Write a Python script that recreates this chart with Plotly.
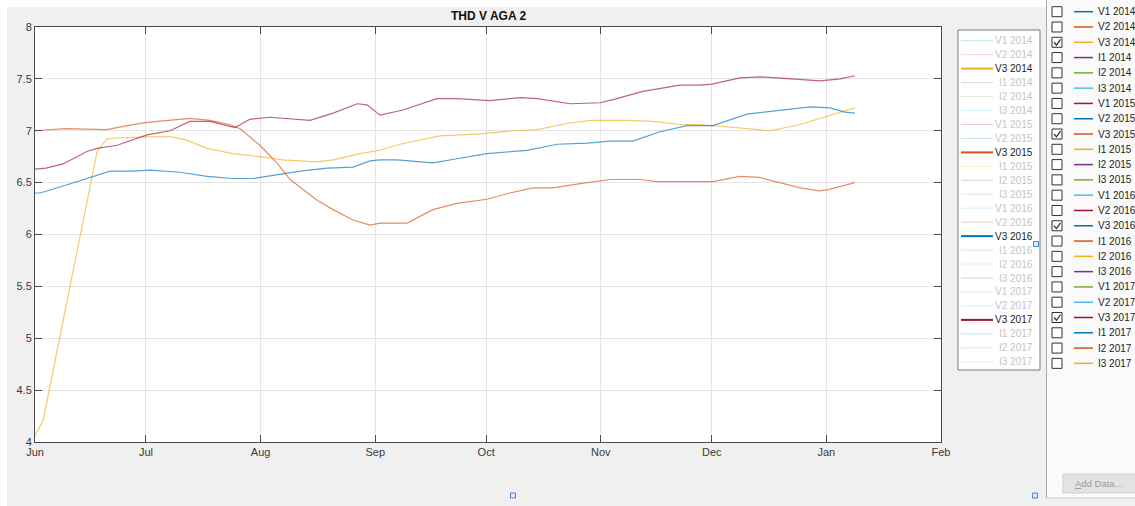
import pandas as pd
import plotly.graph_objects as go

W, H = 1135, 506

# ---------------- data (x = days since 1 June, y = THD %) ----------------
v3_2014_day = [0, 2.2, 16.8, 19.4, 22, 30, 37, 41, 46.5, 53.5, 60.8, 67, 76, 80.6, 87.9, 93,
               98.7, 109.5, 120.3, 129.3, 135.8, 143.9, 150.1, 160.1, 167.1, 174.4, 179.8,
               183.1, 186.1, 192.5, 198.8, 206.9, 214.2, 221.7]
v3_2014_val = [4.06, 4.21, 6.80, 6.92, 6.93, 6.94, 6.94, 6.91, 6.83, 6.78, 6.75, 6.72, 6.70, 6.72,
               6.78, 6.81, 6.87, 6.95, 6.97, 7.00, 7.01, 7.07, 7.10, 7.10, 7.09, 7.06, 7.06,
               7.05, 7.04, 7.02, 7.00, 7.06, 7.14, 7.22]

v3_2015_day = [0, 8, 19.4, 25, 30.3, 36.5, 41.9, 47.3, 52.5, 55.5, 58, 60.8, 65.4, 69, 76.3, 80.6,
               86, 90.6, 93.3, 100.6, 107.6, 114.1, 122.2, 128.4, 134.7, 140.1, 147.4, 155.5,
               163.6, 168.2, 177.1, 183.3, 190.6, 196, 206.9, 212, 214.2, 221.7]
v3_2015_val = [7.00, 7.02, 7.01, 7.05, 7.08, 7.10, 7.12, 7.10, 7.06, 7.02, 6.94, 6.86, 6.69, 6.53,
               6.33, 6.24, 6.14, 6.09, 6.11, 6.11, 6.24, 6.30, 6.34, 6.40, 6.45, 6.45, 6.49, 6.53,
               6.53, 6.51, 6.51, 6.51, 6.56, 6.55, 6.45, 6.42, 6.43, 6.50]

v3_2016_day = [0, 1.4, 8.7, 14.1, 20.3, 26.5, 31.1, 39.2, 46.5, 53.5, 59, 64.4, 71.7, 79, 86,
               90.6, 93.3, 97.9, 100.6, 107.6, 114.1, 122.2, 133, 141.2, 149.3, 155.5, 161.7,
               169, 176.3, 183.3, 192.5, 199.6, 209.6, 215, 219, 221.7]
v3_2016_val = [6.40, 6.40, 6.48, 6.54, 6.61, 6.61, 6.62, 6.60, 6.56, 6.54, 6.54, 6.57, 6.61, 6.64,
               6.65, 6.71, 6.72, 6.72, 6.71, 6.69, 6.73, 6.78, 6.81, 6.87, 6.88, 6.90, 6.90,
               6.99, 7.05, 7.05, 7.16, 7.19, 7.23, 7.22, 7.18, 7.17]

v3_2017_day = [0, 3, 7.6, 14, 16.8, 22.2, 30.3, 36.5, 41.9, 47.3, 54.1, 58.1, 63.5, 74.4, 80.6,
               87.1, 89.8, 93.3, 99.5, 108.7, 114.1, 120.3, 123, 131.2, 135.8, 144.7, 152.8,
               156.3, 164.4, 174.4, 179.8, 183.1, 190.6, 196.1, 204.2, 212.3, 217.7, 221.7]
v3_2017_val = [6.63, 6.64, 6.68, 6.80, 6.83, 6.86, 6.96, 7.00, 7.09, 7.09, 7.03, 7.11, 7.13, 7.10,
               7.17, 7.26, 7.25, 7.15, 7.20, 7.31, 7.31, 7.30, 7.29, 7.32, 7.31, 7.26, 7.27,
               7.30, 7.38, 7.44, 7.44, 7.45, 7.51, 7.52, 7.50, 7.48, 7.50, 7.53]

month_ticks = ["2017-06-01", "2017-07-01", "2017-08-01", "2017-09-01", "2017-10-01",
               "2017-11-01", "2017-12-01", "2018-01-01", "2018-02-01"]
month_labels = ["Jun", "Jul", "Aug", "Sep", "Oct", "Nov", "Dec", "Jan", "Feb"]
y_ticks = [4, 4.5, 5, 5.5, 6, 6.5, 7, 7.5, 8]
y_labels = ["4", "4.5", "5", "5.5", "6", "6.5", "7", "7.5", "8"]

signals = ["V1", "V2", "V3", "I1", "I2", "I3"]
years = ["2014", "2015", "2016", "2017"]
names = [f"{s} {y}" for y in years for s in signals]
shown = ["V3 2014", "V3 2015", "V3 2016", "V3 2017"]
matlab_colors = ["#0072BD", "#D95319", "#EDB120", "#7E2F8E", "#77AC30", "#4DBEEE", "#A2142F"]
title = "THD V AGA 2"

series = {
    "V3 2014": (v3_2014_day, v3_2014_val),
    "V3 2015": (v3_2015_day, v3_2015_val),
    "V3 2016": (v3_2016_day, v3_2016_val),
    "V3 2017": (v3_2017_day, v3_2017_val),
}

# ---------------- helpers for pixel placement of decorations ----------------
def px(x):
    return x / W

def py(y):
    return 1 - y / H

FONT = "Liberation Sans, Arial, sans-serif"
base = pd.Timestamp("2017-06-01")

fig = go.Figure()
for name in shown:
    d, v = series[name]
    color = matlab_colors[names.index(name) % 7]
    fig.add_trace(go.Scatter(
        x=base + pd.to_timedelta(d, unit="D"), y=v, mode="lines",
        line=dict(color=color, width=1.2), opacity=0.66, name=name, showlegend=False,
        hoverinfo="skip"))

shapes = []
annotations = []

# white strips at top / left edge of screenshot
shapes.append(dict(type="rect", xref="paper", yref="paper", x0=0, x1=1, y0=py(7), y1=1,
                   fillcolor="white", line=dict(width=0), layer="below"))
shapes.append(dict(type="rect", xref="paper", yref="paper", x0=0, x1=px(7), y0=0, y1=1,
                   fillcolor="white", line=dict(width=0), layer="below"))

# title
annotations.append(dict(text=f"<b>{title}</b>", xref="paper", yref="paper", x=px(488), y=py(16),
                        xanchor="center", yanchor="middle", showarrow=False,
                        font=dict(family=FONT, size=12, color="#111")))

# ---------------- legend box ----------------
shapes.append(dict(type="rect", xref="paper", yref="paper", x0=px(958), x1=px(1040),
                   y0=py(370), y1=py(30), fillcolor="white", line=dict(color="#7a7a7a", width=1)))
for i, name in enumerate(names):
    yy = 40.7 + i * 13.96
    color = matlab_colors[i % 7]
    on = name in shown
    shapes.append(dict(type="line", xref="paper", yref="paper", x0=px(961), x1=px(993),
                       y0=py(yy), y1=py(yy), line=dict(color=color, width=2 if on else 1),
                       opacity=1 if on else 0.22))
    annotations.append(dict(text=name, xref="paper", yref="paper", x=px(1035), y=py(yy),
                            xanchor="right", yanchor="middle", showarrow=False,
                            font=dict(family=FONT, size=10, color="#1a1a1a" if on else "#c4c4c4")))

# ---------------- right panel with checkboxes ----------------
shapes.append(dict(type="rect", xref="paper", yref="paper", x0=px(1047), x1=1, y0=py(498), y1=py(0),
                   fillcolor="#fafafa", line=dict(width=0), layer="below"))
shapes.append(dict(type="line", xref="paper", yref="paper", x0=px(1046.5), x1=px(1046.5),
                   y0=py(498), y1=py(0), line=dict(color="#a8a8a8", width=1)))
shapes.append(dict(type="line", xref="paper", yref="paper", x0=px(1046.5), x1=1,
                   y0=py(498), y1=py(498), line=dict(color="#c8c8c8", width=1)))
for i, name in enumerate(names):
    yy = 11.7 + i * 15.29
    color = matlab_colors[i % 7]
    shapes.append(dict(type="rect", xref="paper", yref="paper", x0=px(1052), x1=px(1062),
                       y0=py(yy + 5), y1=py(yy - 5), fillcolor="white",
                       line=dict(color="#333333", width=1)))
    if name in shown:
        shapes.append(dict(type="path", xref="paper", yref="paper",
                           path=f"M {px(1054)},{py(yy)} L {px(1056.5)},{py(yy + 2.8)} L {px(1060.5)},{py(yy - 3)}",
                           line=dict(color="#333333", width=1.3)))
    shapes.append(dict(type="line", xref="paper", yref="paper", x0=px(1074), x1=px(1093),
                       y0=py(yy), y1=py(yy), line=dict(color=color, width=1.5)))
    annotations.append(dict(text=name, xref="paper", yref="paper", x=px(1096), y=py(yy),
                            xanchor="left", yanchor="middle", showarrow=False,
                            font=dict(family=FONT, size=10, color="#222")))

# Add Data button
shapes.append(dict(type="rect", xref="paper", yref="paper", x0=px(1063), x1=px(1136),
                   y0=py(493), y1=py(474), fillcolor="#e3e3e3", line=dict(color="#cfcfcf", width=1)))
annotations.append(dict(text="<u>A</u>dd Data...", xref="paper", yref="paper", x=px(1099), y=py(483.5),
                        xanchor="center", yanchor="middle", showarrow=False,
                        font=dict(family=FONT, size=9.5, color="#9a9a9a")))

# small blue resize handles
for hx, hy in [(513, 495.5), (1035, 495.5), (1036, 244)]:
    shapes.append(dict(type="rect", xref="paper", yref="paper", x0=px(hx - 2.5), x1=px(hx + 2.5),
                       y0=py(hy + 2.5), y1=py(hy - 2.5), fillcolor="#dbe9f8",
                       line=dict(color="#3d8de0", width=1)))

axis_common = dict(showline=True, linecolor="#4a4a4a", linewidth=1, mirror="ticks",
                   ticks="inside", ticklen=7, tickcolor="#4a4a4a", showgrid=True,
                   gridcolor="#e4e4e4", gridwidth=1, zeroline=False, automargin=False,
                   tickfont=dict(family=FONT, size=11, color="#3a3a3a"))

fig.update_layout(
    width=W, height=H,
    margin=dict(l=0, r=0, t=0, b=0, pad=0, autoexpand=False),
    paper_bgcolor="#f0f0f0", plot_bgcolor="white",
    showlegend=False,
    xaxis=dict(domain=[px(35), px(941)], range=[month_ticks[0], month_ticks[-1]],
               tickmode="array", tickvals=month_ticks, ticktext=month_labels,
               **axis_common),
    yaxis=dict(domain=[py(442), py(27)], range=[4, 8], tickmode="array",
               tickvals=y_ticks, ticktext=y_labels, **axis_common),
    shapes=shapes, annotations=annotations,
)

fig.write_html(
    "out.html",
    config={"displayModeBar": False},
    post_script="document.body.style.margin='0';document.body.style.overflow='hidden';",
)
